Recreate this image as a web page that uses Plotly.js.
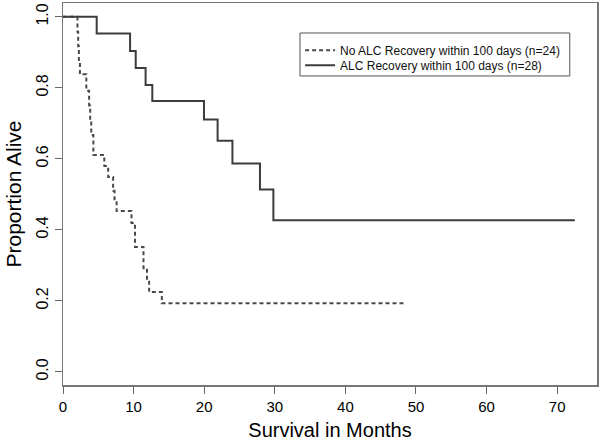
<!DOCTYPE html>
<html>
<head>
<meta charset="utf-8">
<script src="https://cdn.plot.ly/plotly-3.0.1.min.js"></script>
<style>html,body{margin:0;padding:0;background:#fff;}#chart{width:600px;height:445px;}</style>
</head>
<body>
<div id="chart"></div>
<script>
// No ALC Recovery within 100 days (n=24): step times (months) and survival after each step
const noRecTimes = [0, 2.05, 2.15, 2.25, 2.4, 3.3, 3.7, 3.85, 4.0, 4.3, 5.85, 6.4, 7.1, 7.3, 7.6, 9.7, 10.2, 11.4, 11.9, 12.2, 14.0, 48.4];
const noRecSurv  = [1.0, 0.958, 0.917, 0.875, 0.838, 0.792, 0.75, 0.708, 0.667, 0.611, 0.58, 0.549, 0.51, 0.478, 0.453, 0.419, 0.352, 0.292, 0.262, 0.225, 0.193, 0.193];

// ALC Recovery within 100 days (n=28)
const recTimes = [0, 4.77, 9.5, 10.3, 11.7, 12.65, 19.97, 21.9, 24.0, 27.9, 29.8, 72.5];
const recSurv  = [1.0, 0.953, 0.904, 0.856, 0.808, 0.763, 0.711, 0.651, 0.587, 0.514, 0.427, 0.427];

const xTicks = [0, 10, 20, 30, 40, 50, 60, 70];
const yTicks = [0, 0.2, 0.4, 0.6, 0.8, 1.0];
const yTickLabels = ["0.0", "0.2", "0.4", "0.6", "0.8", "1.0"];

const seriesNames = ["No ALC Recovery within 100 days (n=24)", "ALC Recovery within 100 days (n=28)"];

const traces = [
  {x: noRecTimes, y: noRecSurv, name: seriesNames[0], type: 'scatter', mode: 'lines', legend: 'legend',
   line: {shape: 'hv', color: '#4a4a4a', width: 2, dash: '4px,3px'}},
  {x: recTimes, y: recSurv, name: seriesNames[1], type: 'scatter', mode: 'lines', legend: 'legend2',
   line: {shape: 'hv', color: '#3c3c3c', width: 2}}
];

const fontFam = 'Liberation Sans, Arial, Helvetica, sans-serif';
const legFont = {family: fontFam, size: 12, color: '#111'};
const layout = {
  width: 600, height: 445,
  margin: {l: 63, r: 3, t: 3, b: 60},
  paper_bgcolor: '#fff', plot_bgcolor: '#fff',
  font: {family: fontFam, color: '#111', size: 15},
  showlegend: true,
  legend: {x: 0.444, y: 0.914, xanchor: 'left', yanchor: 'top', borderwidth: 0,
    bgcolor: 'rgba(0,0,0,0)', font: legFont},
  legend2: {x: 0.444, y: 0.875, xanchor: 'left', yanchor: 'top', borderwidth: 0,
    bgcolor: 'rgba(0,0,0,0)', font: legFont},
  shapes: [{type: 'rect', xref: 'paper', yref: 'paper', x0: 0.4438, x1: 0.949, y0: 0.809, y1: 0.9215,
    line: {color: '#555', width: 1}, fillcolor: 'rgba(0,0,0,0)'}],
  xaxis: {range: [0, 75.64], tickvals: xTicks, ticks: 'outside', ticklen: 7, tickcolor: '#666',
    showline: true, mirror: true, linecolor: '#777', linewidth: 1.5, showgrid: false, zeroline: false,
    tickfont: {size: 15, color: '#000'}, title: {text: 'Survival in Months', font: {size: 20, color: '#000'}, standoff: 9}},
  yaxis: {range: [-0.037, 1.039], tickvals: yTicks, ticktext: yTickLabels, tickangle: -90,
    ticks: 'outside', ticklen: 7, tickcolor: '#666',
    showline: true, mirror: true, linecolor: '#777', linewidth: 1.5, showgrid: false, zeroline: false,
    tickfont: {size: 16, color: '#000'}, title: {text: 'Proportion Alive', font: {size: 21, color: '#000'}, standoff: 6}}
};

Plotly.newPlot('chart', traces, layout, {displayModeBar: false, staticPlot: true});
</script>
</body>
</html>
